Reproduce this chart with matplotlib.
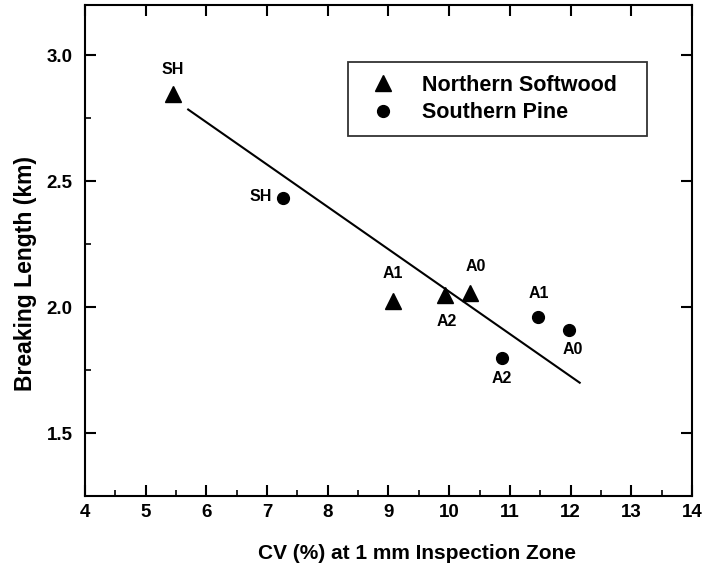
import matplotlib
matplotlib.use("Agg")
import matplotlib.pyplot as plt
from matplotlib.ticker import MultipleLocator

plt.rcParams['font.family'] = ['Liberation Sans', 'DejaVu Sans']
plt.rcParams['font.weight'] = 'bold'

# Northern softwood (triangles)
nsw_x = [5.45, 9.07, 9.93, 10.34]
nsw_y = [2.845, 2.024, 2.048, 2.056]
nsw_lab = ['SH', 'A1', 'A2', 'A0']

# Southern pine (circles)
sp_x = [7.26, 11.46, 11.97, 10.87]
sp_y = [2.434, 1.96, 1.908, 1.80]
sp_lab = ['SH', 'A1', 'A0', 'A2']

# regression line endpoints
fit_x = [5.70, 12.15]
fit_y = [2.785, 1.70]

fig = plt.figure(figsize=(7.07, 5.71), dpi=100)
ax = fig.add_axes([0.1202, 0.1313, 0.8586, 0.8599])

ax.plot(nsw_x, nsw_y, '^', color='black', ms=12, label='Northern Softwood')
ax.plot(sp_x, sp_y, 'o', color='black', ms=8.5, label='Southern Pine')
ax.plot(fit_x, fit_y, '-', color='black', lw=1.5)

# point labels (offsets in points)
nsw_off = [(0, 18), (0, 20), (1, -19), (4, 19)]
sp_off = [(-16, 1), (1, 17), (3, -14), (0, -15)]
for x, y, t, o in zip(nsw_x, nsw_y, nsw_lab, nsw_off):
    ax.annotate(t, (x, y), xytext=o, textcoords='offset points',
                ha='center', va='center', fontsize=11.5, fontweight='bold')
for x, y, t, o in zip(sp_x, sp_y, sp_lab, sp_off):
    ax.annotate(t, (x, y), xytext=o, textcoords='offset points',
                ha='center', va='center', fontsize=11.5, fontweight='bold')

ax.set_xlim(4, 14)
ax.set_ylim(1.25, 3.2)
ax.xaxis.set_major_locator(MultipleLocator(1))
ax.xaxis.set_minor_locator(MultipleLocator(0.5))
ax.yaxis.set_major_locator(MultipleLocator(0.5))
ax.yaxis.set_minor_locator(MultipleLocator(0.25))
ax.yaxis.set_major_formatter(plt.FormatStrFormatter('%.1f'))

ax.tick_params(which='major', direction='in', length=8, width=1.5,
               top=True, right=True, labelsize=13.5)
ax.tick_params(axis='x', which='major', pad=6)
ax.tick_params(axis='y', which='major', pad=9)
ax.tick_params(which='minor', direction='in', length=4, width=1.2,
               top=False, right=False)
for lab in ax.get_xticklabels() + ax.get_yticklabels():
    lab.set_fontweight('bold')
for s in ax.spines.values():
    s.set_linewidth(1.5)

ax.set_xlabel('CV (%) at 1 mm Inspection Zone', fontsize=15,
              fontweight='bold', labelpad=16, x=0.547)
ax.set_ylabel('Breaking Length (km)', fontsize=16.5, fontweight='bold',
              labelpad=7, y=0.454)

leg_top = 0.884
leg_h = 0.145
leg = ax.legend(loc='upper left', bbox_to_anchor=(0.433, leg_top - leg_h, 0.4926, leg_h),
                mode='expand', borderaxespad=0, frameon=True, fancybox=False,
                edgecolor='black', handlelength=2.1, handletextpad=0.75,
                borderpad=0.6, labelspacing=0.3,
                prop={'weight': 'bold', 'size': 15.5})
leg.get_frame().set_linewidth(1.3)

fig.savefig('out.png', dpi=100)
